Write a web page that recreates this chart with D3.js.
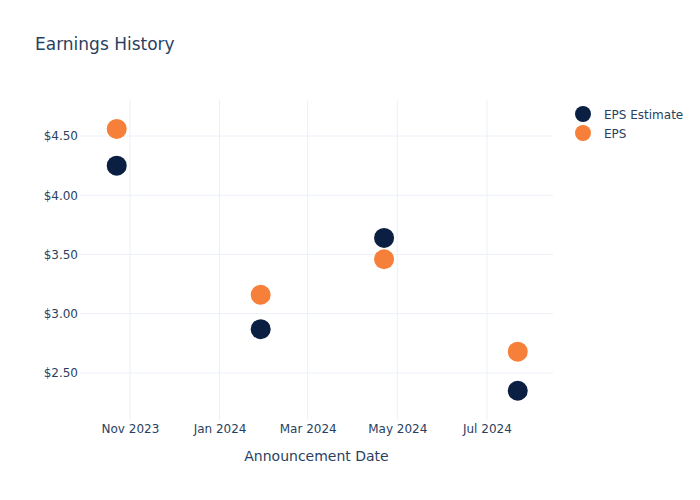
<!DOCTYPE html>
<html>
<head>
<meta charset="utf-8">
<script src="https://cdn.jsdelivr.net/npm/d3@7"></script>
<style>
  html, body { margin: 0; padding: 0; background: #fff; }
  svg { display: block; font-family: "DejaVu Sans", sans-serif; }
</style>
</head>
<body>
<svg id="chart" width="700" height="500"></svg>
<script>
// Data
const dates = ["2023-10-23", "2024-01-29", "2024-04-22", "2024-07-22"];
const epsEstimate = [4.25, 2.87, 3.64, 2.35];
const eps = [4.56, 3.16, 3.46, 2.68];
const yTicks = [2.5, 3.0, 3.5, 4.0, 4.5];
const xTicks = ["2023-11-01", "2024-01-01", "2024-03-01", "2024-05-01", "2024-07-01"];
const seriesNames = ["EPS Estimate", "EPS"];
const seriesColors = ["#0b1f42", "#f68039"];

const parse = d3.utcParse("%Y-%m-%d");
const svg = d3.select("#chart");
const W = 700, H = 500;
const m = { l: 80, r: 147, t: 100, b: 80 };

const x = d3.scaleUtc()
  .domain([parse("2023-09-28"), parse("2024-08-15")])
  .range([m.l, W - m.r]);
const y = d3.scaleLinear()
  .domain([2.103, 4.804])
  .range([H - m.b, m.t]);

// Gridlines
const grid = svg.append("g");
grid.selectAll(".xg").data(xTicks).join("line")
  .attr("x1", d => x(parse(d))).attr("x2", d => x(parse(d)))
  .attr("y1", m.t).attr("y2", H - m.b)
  .attr("stroke", "#ebf0f8").attr("stroke-width", 1);
grid.selectAll(".yg").data(yTicks).join("line")
  .attr("x1", m.l).attr("x2", W - m.r)
  .attr("y1", d => y(d)).attr("y2", d => y(d))
  .attr("stroke", "#ebf0f8").attr("stroke-width", 1);

// Axes
const fmtX = d3.utcFormat("%b %Y");
const xAxis = d3.axisBottom(x)
  .tickValues(xTicks.map(parse))
  .tickFormat(fmtX).tickSize(0).tickPadding(4);
const gx = svg.append("g").attr("transform", `translate(0,${H - m.b})`).call(xAxis);
gx.select(".domain").remove();
gx.selectAll("text").attr("fill", "#2a3f5f").attr("font-size", 12).attr("font-family", "DejaVu Sans, sans-serif");

const yAxis = d3.axisLeft(y)
  .tickValues(yTicks)
  .tickFormat(d => "$" + d3.format(".2f")(d)).tickSize(0).tickPadding(2);
const gy = svg.append("g").attr("transform", `translate(${m.l},0)`).call(yAxis);
gy.select(".domain").remove();
gy.selectAll("text").attr("fill", "#2a3f5f").attr("font-size", 12).attr("font-family", "DejaVu Sans, sans-serif");

// Points
const series = [epsEstimate, eps];
series.forEach((vals, i) => {
  svg.append("g").selectAll("circle").data(vals).join("circle")
    .attr("cx", (d, j) => x(parse(dates[j])))
    .attr("cy", d => y(d))
    .attr("r", 10)
    .attr("fill", seriesColors[i]);
});

// Title
svg.append("text").attr("x", 35).attr("y", 50)
  .attr("fill", "#2a3f5f").attr("font-size", 17)
  .text("Earnings History");

// Axis title
svg.append("text").attr("x", (m.l + W - m.r) / 2).attr("y", 461)
  .attr("text-anchor", "middle").attr("fill", "#2a3f5f").attr("font-size", 14)
  .text("Announcement Date");

// Legend
const lg = svg.append("g").attr("transform", "translate(583,114)");
seriesNames.forEach((name, i) => {
  lg.append("circle").attr("cx", 0).attr("cy", i * 19).attr("r", 8).attr("fill", seriesColors[i]);
  lg.append("text").attr("x", 21).attr("y", i * 19 + 4.5)
    .attr("fill", "#2a3f5f").attr("font-size", 12).text(name);
});
</script>
</body>
</html>
